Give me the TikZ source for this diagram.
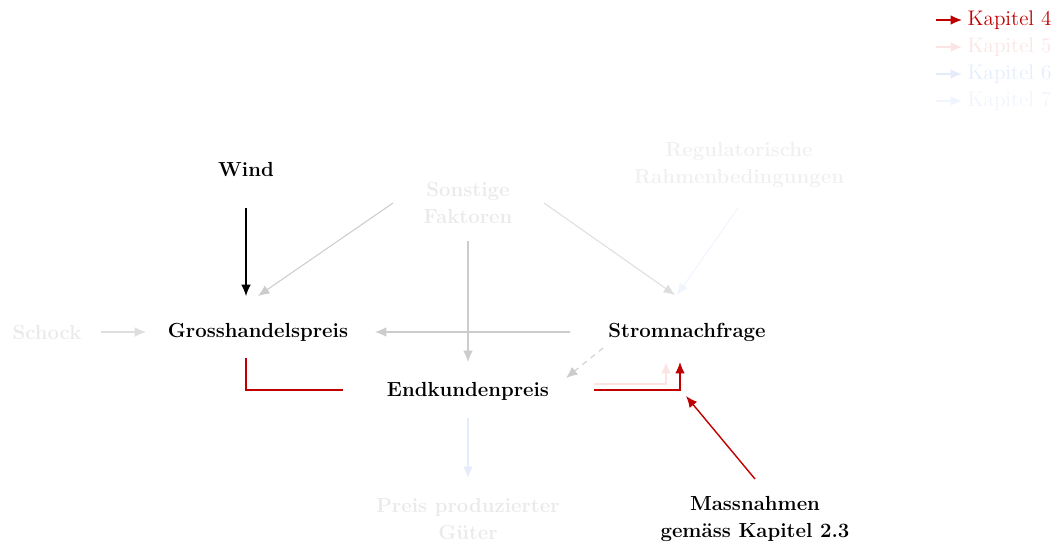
\documentclass[tikz,border=0pt]{standalone}
\usepackage{tikz}
\usetikzlibrary{arrows.meta,calc}
\definecolor{kapvier}{RGB}{192,0,0}
\definecolor{kapfuenf}{RGB}{252,228,228}
\definecolor{kapsechs}{RGB}{228,236,252}
\definecolor{kapsieben}{RGB}{240,244,253}
\definecolor{grautext}{RGB}{234,234,234}
\definecolor{graupfeil}{RGB}{204,204,204}
\definecolor{hellpfeil}{RGB}{222,222,222}
\tikzstyle{fakt} = [font=\fontsize{11.6}{15}\selectfont\bfseries, align=center, inner sep=2pt]
\tikzstyle{blass} = [fakt, text=grautext]
\tikzstyle{leg} = [font=\fontsize{12}{14}\selectfont, anchor=west, inner sep=3pt]
\tikzstyle{pf} = [draw, line width=0.6pt, -{Latex[length=6.5pt,width=5.5pt]}]

\begin{document}
\begin{tikzpicture}[x=0.02cm, y=-0.02cm]
  \useasboundingbox (0,0) rectangle (1060,545);

  % Legende
  \node[leg, text=kapvier] (kap4) at (962,20) {Kapitel 4};
  \node[leg, text=kapfuenf] (kap5) at (962,47) {Kapitel 5};
  \node[leg, text=kapsechs] (kap6) at (962,74) {Kapitel 6};
  \node[leg, text=kapsieben] (kap7) at (962,101) {Kapitel 7};
  \draw[pf, kapvier, line width=0.8pt] ($(kap4.west)+(-26,0)$) -- (kap4.west);
  \draw[pf, kapfuenf] ($(kap5.west)+(-26,0)$) -- (kap5.west);
  \draw[pf, kapsechs] ($(kap6.west)+(-26,0)$) -- (kap6.west);
  \draw[pf, kapsieben] ($(kap7.west)+(-26,0)$) -- (kap7.west);

  % Faktoren
  \node[fakt] (wind) at (246,170) {Wind};
  \node[blass] (sonst) at (468,203) {Sonstige\\Faktoren};
  \node[blass, text=grautext!70!white] (regul) at (739,165) {Regulatorische\\Rahmenbedingungen};
  \node[blass] (schock) at (47,332) {Schock};
  \node[fakt] (gross) at (258,332) {Grosshandelspreis};
  \node[fakt] (strom) at (687,332) {Stromnachfrage};
  \node[fakt] (endk) at (468,391) {Endkundenpreis};
  \node[blass] (preis) at (468,519) {Preis produzierter\\Güter};
  \node[fakt] (mass) at (755,519) {Massnahmen\\gemäss Kapitel 2.3};

  % Wirkungen
  \draw[pf] ($(wind.center)+(0,38)$) -- ($(wind.center |- gross.center)+(0,-36)$);
  \draw[pf, graupfeil] ($(sonst.center)+(-75,0)$) -- ($(gross.center)+(0,-36)$);
  \draw[pf, hellpfeil] ($(sonst.center)+(76,0)$) -- ($(strom.center)+(-12,-37)$);
  \draw[pf, kapsieben] ($(regul.center)+(-1,43)$) -- ($(strom.center)+(-10,-37)$);
  \draw[pf, hellpfeil] ($(schock.center)+(54,0)$) -- ($(gross.center)+(-112,0)$);
  \draw[pf, graupfeil] ($(strom.center)+(-117,0)$) -- ($(gross.center)+(117,0)$);
  \draw[pf, graupfeil] ($(sonst.center)+(0,38)$) -- ($(endk.center)+(0,-29)$);
  \draw[pf, graupfeil, dashed] ($(strom.center)+(-84,16)$) -- ($(endk.center)+(98,-13)$);
  \draw[pf, kapsechs] ($(endk.center)+(0,27)$) -- ($(preis.center)+(0,-41)$);

  % Kapitel 4
  \draw[kapvier, line width=0.8pt] ($(gross.center)+(-12,26)$) |- ($(endk.center)+(-125,-1)$);
  \draw[pf, kapfuenf, line width=0.8pt] ($(endk.center)+(126,-7)$) -| ($(strom.center)+(-21,30)$);
  \draw[pf, kapvier, line width=0.8pt] ($(endk.center)+(126,-1)$) -| ($(strom.center)+(-7,30)$);
  \draw[pf, kapvier, line width=0.8pt] ($(mass.center)+(0,-40)$) -- ($(strom.center)+(-1,64)$);
\end{tikzpicture}
\end{document}
